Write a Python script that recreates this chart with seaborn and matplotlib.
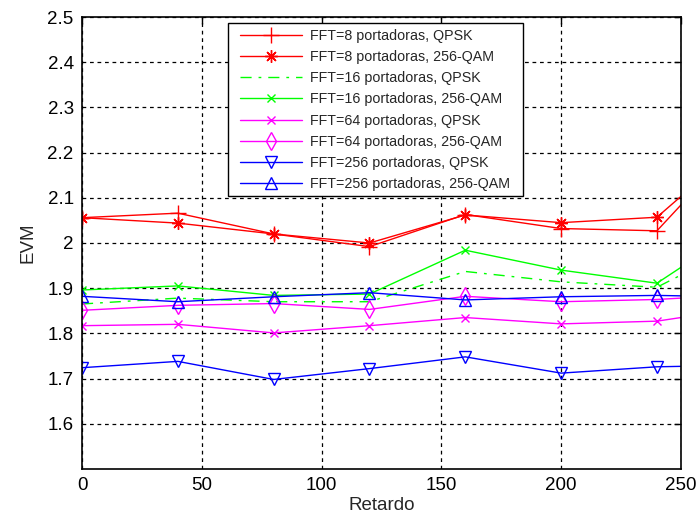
import matplotlib
matplotlib.use("Agg")
import matplotlib.pyplot as plt
from matplotlib.patches import Rectangle
import seaborn as sns
import pandas as pd

# ---- data ----
retardo = [0, 40, 80, 120, 160, 200, 240, 280]
fft8_qpsk = [2.056, 2.066, 2.020, 1.992, 2.063, 2.032, 2.027, 2.255]
fft8_qam = [2.056, 2.044, 2.020, 2.000, 2.062, 2.045, 2.057, 2.241]
fft16_qpsk = [1.865, 1.878, 1.870, 1.870, 1.937, 1.914, 1.902, 2.010]
fft16_qam = [1.896, 1.905, 1.884, 1.887, 1.984, 1.940, 1.911, 2.051]
fft64_qpsk = [1.817, 1.820, 1.801, 1.817, 1.835, 1.821, 1.827, 1.859]
fft64_qam = [1.851, 1.862, 1.866, 1.853, 1.882, 1.870, 1.875, 1.887]
fft256_qpsk = [1.724, 1.738, 1.698, 1.722, 1.748, 1.712, 1.726, 1.730]
fft256_qam = [1.882, 1.870, 1.881, 1.890, 1.874, 1.881, 1.884, 1.880]

labels = ["FFT=8 portadoras, QPSK", "FFT=8 portadoras, 256-QAM",
          "FFT=16 portadoras, QPSK", "FFT=16 portadoras, 256-QAM",
          "FFT=64 portadoras, QPSK", "FFT=64 portadoras, 256-QAM",
          "FFT=256 portadoras, QPSK", "FFT=256 portadoras, 256-QAM"]
series = [fft8_qpsk, fft8_qam, fft16_qpsk, fft16_qam,
          fft64_qpsk, fft64_qam, fft256_qpsk, fft256_qam]
xticks = [0, 50, 100, 150, 200, 250]
yticks = [1.6, 1.7, 1.8, 1.9, 2.0, 2.1, 2.2, 2.3, 2.4, 2.5]

styles = [
    dict(color="#FF0000", marker="+", linestyle="-", markersize=11),
    dict(color="#FF0000", marker=(8, 2, 0), linestyle="-", markersize=9),
    dict(color="#00FF00", marker=None, linestyle=(0, (8, 5, 2, 5)), markersize=0),
    dict(color="#00FF00", marker="x", linestyle="-", markersize=6),
    dict(color="#FF00FF", marker="x", linestyle="-", markersize=6),
    dict(color="#FF00FF", marker="d", linestyle="-", markersize=9),
    dict(color="#0000FF", marker="v", linestyle="-", markersize=8.5),
    dict(color="#0000FF", marker="^", linestyle="-", markersize=8.5),
]

sns.set_style("white")
plt.rcParams["font.family"] = ["Liberation Sans", "DejaVu Sans"]

W, H = 698, 517
fig = plt.figure(figsize=(W / 100, H / 100), dpi=100)
ax = fig.add_axes([0.1175, 0.093, 0.858, 0.874])

for lab, vals, st in zip(labels, series, styles):
    df = pd.DataFrame({"Retardo": retardo, "EVM": vals})
    kw = dict(color=st["color"], linestyle=st["linestyle"], linewidth=1.0)
    if st["marker"] is not None:
        kw.update(marker=st["marker"], markersize=st["markersize"],
                  markerfacecolor="none", markeredgecolor=st["color"],
                  markeredgewidth=1.0)
    sns.lineplot(data=df, x="Retardo", y="EVM", ax=ax, label=lab, **kw)

ax.set_xlim(0, 250)
ax.set_ylim(1.5, 2.5)
ax.set_xticks(xticks)
ax.set_yticks(yticks)
ax.set_yticklabels([f"{v:g}" for v in yticks])
ax.tick_params(direction="in", length=5, width=1, labelsize=13.5, colors="black",
               top=True, right=True, pad=6)
ax.grid(True, color="black", linestyle=(0, (3, 3)), linewidth=0.9)
for s in ax.spines.values():
    s.set_color("black")
    s.set_linewidth(1.2)
    s.set_visible(True)
ax.set_xlabel("Retardo", fontsize=13.5, labelpad=2)
ax.set_ylabel("EVM", fontsize=13.5, labelpad=8)

handles, labs = ax.get_legend_handles_labels()
ax.get_legend().remove()

# legend frame box
box = Rectangle((228 / W, 1 - 196 / H), 295 / W, 173 / H,
                transform=fig.transFigure, facecolor="white", edgecolor="black",
                linewidth=1.0, zorder=4, clip_on=False)
ax.add_patch(box)

leg = ax.legend(handles, labs, loc="upper left",
                bbox_to_anchor=(240 / W, 1 - 29 / H), bbox_transform=fig.transFigure,
                fontsize=10.3, frameon=False,
                handlelength=4.3, labelspacing=0.5, borderpad=0,
                handletextpad=0.62, borderaxespad=0)
leg.set_zorder(5)

fig.savefig("out.png", dpi=100)
